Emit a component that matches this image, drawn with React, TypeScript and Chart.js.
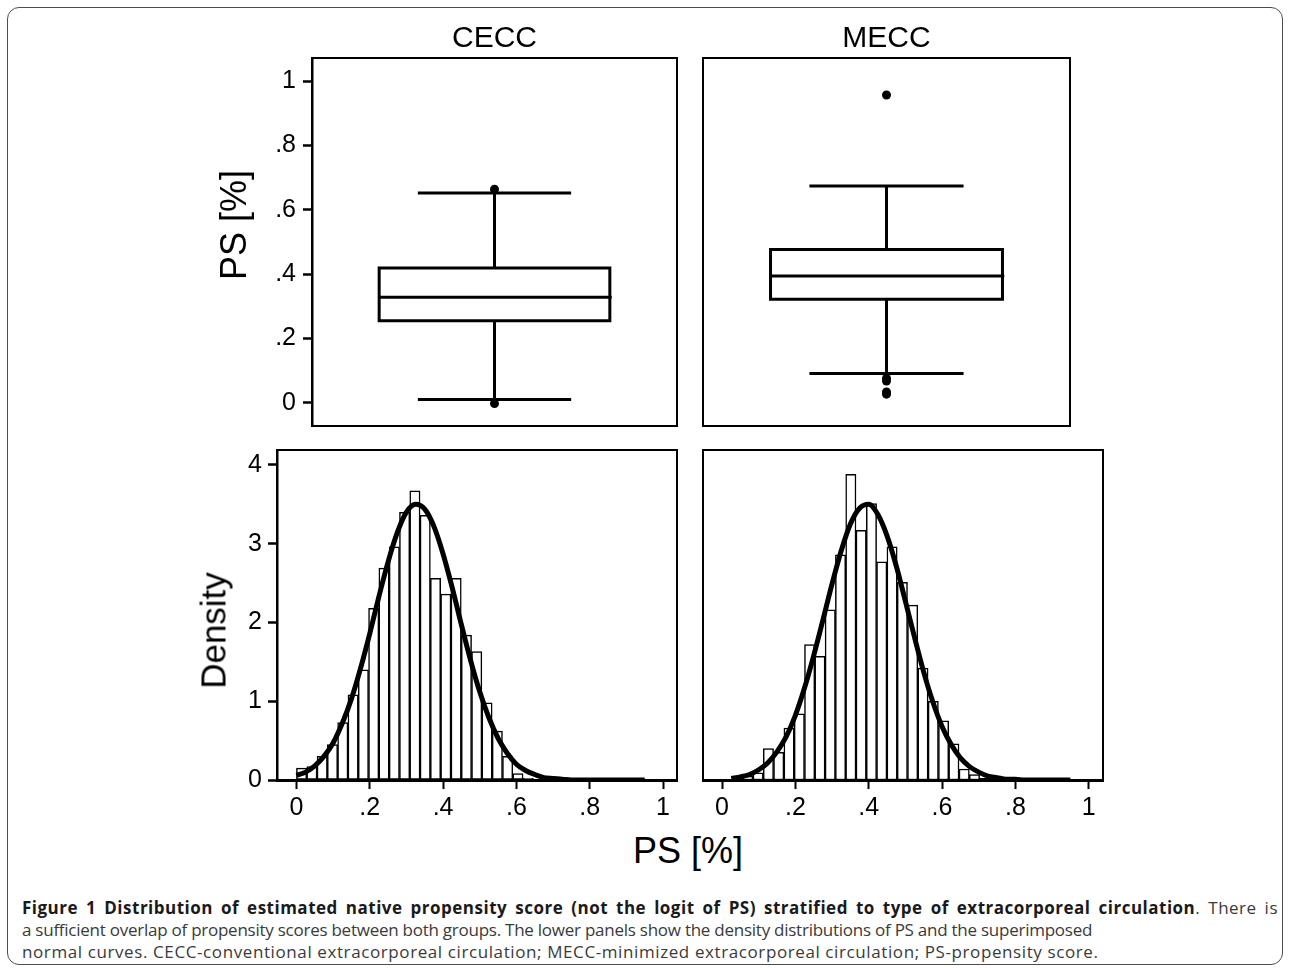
import React, { useEffect, useRef } from 'react';
import { Chart, registerables } from 'chart.js';

Chart.register(...registerables);

const FONT = '"Liberation Sans", Arial, Helvetica, sans-serif';

// ---------- data ----------
const groups = ['CECC', 'MECC'];

// box plot statistics: [lower whisker, Q1, median, Q3, upper whisker]
const ceccBox = [0.0105, 0.255, 0.328, 0.419, 0.652];
const meccBox = [0.091, 0.322, 0.394, 0.477, 0.674];
const ceccOutliers = [0.664, -0.002];
const meccOutliers = [0.957, 0.076, 0.068, 0.034, 0.027];

const boxYTicks = [0, 0.2, 0.4, 0.6, 0.8, 1];
const boxYTickLabels = ['0', '.2', '.4', '.6', '.8', '1'];

const histXTicks = [0, 0.2, 0.4, 0.6, 0.8, 1];
const histXTickLabels = ['0', '.2', '.4', '.6', '.8', '1'];
const histYTicks = [0, 1, 2, 3, 4];
const histYTickLabels = ['0', '1', '2', '3', '4'];

// histogram bin centres (PS)
const binCenters = [
  0.01405, 0.04215, 0.07025, 0.09835, 0.12645, 0.15455, 0.18265, 0.21075,
  0.23885, 0.26695, 0.29505, 0.32315, 0.35125, 0.37935, 0.40745, 0.43555,
  0.46365, 0.49175, 0.51985, 0.54795, 0.57605, 0.60415, 0.63225, 0.66035,
  0.68845, 0.71655,
];
const ceccDensity = [
  0.15, 0.17, 0.3, 0.45, 0.73, 1.08, 1.4, 2.18, 2.69, 2.96, 3.4, 3.67, 3.36,
  2.56, 2.36, 2.56, 1.84, 1.63, 0.98, 0.62, 0.3, 0.08, 0.02,
];
const meccDensity = [
  0, 0.02, 0.05, 0.09, 0.4, 0.35, 0.66, 0.84, 1.72, 1.57, 2.16, 2.86, 3.88,
  3.17, 3.51, 2.77, 2.96, 2.51, 2.22, 1.42, 1.0, 0.75, 0.46, 0.14, 0.07, 0.02,
];

// superimposed normal curves
const curveX = [
  0, 0.025, 0.05, 0.075, 0.1, 0.125, 0.15, 0.175, 0.2, 0.225, 0.25, 0.275, 0.3,
  0.325, 0.35, 0.375, 0.4, 0.425, 0.45, 0.475, 0.5, 0.525, 0.55, 0.575, 0.6,
  0.625, 0.65, 0.675, 0.7, 0.725, 0.75, 0.775, 0.8, 0.825, 0.85, 0.875, 0.9,
  0.925, 0.95,
];
const ceccCurve = [
  0.06, 0.1, 0.18, 0.3, 0.47, 0.72, 1.03, 1.42, 1.86, 2.33, 2.77, 3.14, 3.4,
  3.5, 3.44, 3.22, 2.87, 2.44, 1.97, 1.52, 1.12, 0.79, 0.53, 0.34, 0.2, 0.12,
  0.07, 0.03, 0.02, 0.01, 0, 0, 0, 0, 0, 0, 0, 0, 0,
];
const meccCurve = [
  null, 0.02, 0.04, 0.07, 0.13, 0.22, 0.36, 0.55, 0.82, 1.17, 1.58, 2.03, 2.49,
  2.91, 3.25, 3.45, 3.5, 3.37, 3.1, 2.72, 2.27, 1.81, 1.37, 0.99, 0.68, 0.45,
  0.28, 0.17, 0.1, 0.05, 0.03, 0.01, 0.01, 0, 0, 0, 0, 0, 0,
];

// ---------- styles ----------
const BOX_CENTER = 0.5;
const BOX_HALF = 0.316;
const CAP_HALF = 0.21;
const LINE_W = 3;

const framePlugin = {
  id: 'frame',
  afterDraw(chart: any) {
    const { ctx, chartArea: a } = chart;
    ctx.save();
    ctx.strokeStyle = '#000';
    ctx.lineWidth = 2;
    ctx.strokeRect(a.left, a.top, a.right - a.left, a.bottom - a.top);
    ctx.restore();
  },
};

const labelFrom = (ticks: number[], labels: string[]) => (v: any) => {
  const i = ticks.indexOf(Number(v));
  return i >= 0 ? labels[i] : '';
};

const fitter = (size: number | null, vertical: boolean) => (s: any) => {
  if (size !== null) {
    if (vertical) s.width = size;
    else s.height = size;
  }
  s.paddingTop = 0;
  s.paddingBottom = 0;
  s.paddingLeft = 0;
  s.paddingRight = 0;
};

function lineDs(label: string, pts: { x: number; y: number }[], cap = 'butt') {
  return {
    type: 'scatter',
    label,
    data: pts,
    showLine: true,
    borderColor: '#000',
    borderWidth: LINE_W,
    borderCapStyle: cap,
    borderJoinStyle: 'miter',
    pointRadius: 0,
    fill: false,
  };
}

function boxConfig(stats: number[], outliers: number[], showY: boolean, pad: any) {
  const [lo, q1, med, q3, hi] = stats;
  const c = BOX_CENTER;
  const l = c - BOX_HALF;
  const r = c + BOX_HALF;
  return {
    type: 'scatter',
    data: {
      datasets: [
        lineDs(
          'box',
          [
            { x: l, y: q1 },
            { x: r, y: q1 },
            { x: r, y: q3 },
            { x: l, y: q3 },
            { x: l, y: q1 },
          ],
          'square'
        ),
        lineDs('median', [
          { x: l, y: med },
          { x: r + 0.005, y: med },
        ]),
        lineDs('upper whisker', [
          { x: c, y: q3 },
          { x: c, y: hi },
        ]),
        lineDs('upper cap', [
          { x: c - CAP_HALF, y: hi },
          { x: c + CAP_HALF, y: hi },
        ]),
        lineDs('lower whisker', [
          { x: c, y: lo },
          { x: c, y: q1 },
        ]),
        lineDs('lower cap', [
          { x: c - CAP_HALF, y: lo },
          { x: c + CAP_HALF, y: lo },
        ]),
        {
          type: 'scatter',
          label: 'outliers',
          data: outliers.map((y) => ({ x: c, y })),
          pointRadius: 4.5,
          pointStyle: 'circle',
          backgroundColor: '#000',
          borderColor: '#000',
          borderWidth: 0,
        },
      ],
    },
    options: {
      animation: false,
      responsive: false,
      maintainAspectRatio: false,
      layout: { padding: pad },
      plugins: { legend: { display: false }, tooltip: { enabled: false } },
      scales: {
        x: { type: 'linear', display: false, min: 0, max: 1, afterFit: fitter(null, false) },
        y: {
          type: 'linear',
          display: showY,
          min: -0.072,
          max: 1.072,
          afterBuildTicks: (s: any) => {
            s.ticks = boxYTicks.map((v) => ({ value: v }));
          },
          afterFit: fitter(showY ? 112 : null, true),
          ticks: {
            callback: labelFrom(boxYTicks, boxYTickLabels),
            font: { family: FONT, size: 25 },
            color: '#000',
            padding: 7,
          },
          grid: {
            display: true,
            drawOnChartArea: false,
            drawTicks: true,
            tickLength: 9,
            tickColor: '#000',
            tickWidth: 2.5,
          },
          border: { display: true, color: '#000', width: 2.5 },
        },
      },
    },
    plugins: [framePlugin],
  };
}

function histConfig(
  density: number[],
  curve: (number | null)[],
  showY: boolean,
  pad: any,
  xmin: number,
  xmax: number
) {
  const bars = binCenters
    .slice(0, density.length)
    .map((x, i) => ({ x, y: density[i] }))
    .filter((p) => p.y > 0);
  return {
    type: 'bar',
    data: {
      datasets: [
        {
          type: 'line',
          label: 'normal curve',
          data: curveX.map((x, i) => ({ x, y: curve[i] })),
          borderColor: '#000',
          borderWidth: 5,
          pointRadius: 0,
          cubicInterpolationMode: 'monotone',
          fill: false,
          order: 0,
        },
        {
          type: 'bar',
          label: 'density',
          data: bars,
          backgroundColor: '#fff',
          borderColor: '#000',
          borderWidth: 1.5,
          borderSkipped: false,
          barPercentage: 1,
          categoryPercentage: 1,
          order: 1,
        },
      ],
    },
    options: {
      animation: false,
      responsive: false,
      maintainAspectRatio: false,
      layout: { padding: pad },
      plugins: { legend: { display: false }, tooltip: { enabled: false } },
      scales: {
        x: {
          type: 'linear',
          min: xmin,
          max: xmax,
          offset: false,
          afterBuildTicks: (s: any) => {
            s.ticks = histXTicks.map((v) => ({ value: v }));
          },
          afterFit: fitter(45, false),
          ticks: {
            callback: labelFrom(histXTicks, histXTickLabels),
            font: { family: FONT, size: 25 },
            color: '#000',
            padding: 4,
            maxRotation: 0,
            autoSkip: false,
          },
          grid: {
            display: true,
            offset: false,
            drawOnChartArea: false,
            drawTicks: true,
            tickLength: 9,
            tickColor: '#000',
            tickWidth: 2,
          },
          border: { display: true, color: '#000', width: 3 },
        },
        y: {
          type: 'linear',
          display: showY,
          min: 0,
          max: 4.19,
          afterBuildTicks: (s: any) => {
            s.ticks = histYTicks.map((v) => ({ value: v }));
          },
          afterFit: fitter(showY ? 87 : null, true),
          ticks: {
            callback: labelFrom(histYTicks, histYTickLabels),
            font: { family: FONT, size: 25 },
            color: '#000',
            padding: 6,
          },
          grid: {
            display: true,
            drawOnChartArea: false,
            drawTicks: true,
            tickLength: 9,
            tickColor: '#000',
            tickWidth: 2.5,
          },
          border: { display: true, color: '#000', width: 2.5 },
        },
      },
    },
    plugins: [framePlugin],
  };
}

function ChartCanvas({ make, left, top, width, height }: any) {
  const ref = useRef<HTMLCanvasElement>(null);
  useEffect(() => {
    const chart = new Chart(ref.current as HTMLCanvasElement, make());
    return () => chart.destroy();
  }, []);
  return (
    <canvas
      ref={ref}
      width={width}
      height={height}
      style={{ position: 'absolute', left, top, width, height }}
    />
  );
}

function Label({ text, cx, cy, size, rotate = false, w = 240 }: any) {
  const h = Math.round(size * 1.12);
  return (
    <div
      style={{
        position: 'absolute',
        left: cx - w / 2,
        top: cy - h / 2,
        width: w,
        height: h,
        lineHeight: h + 'px',
        textAlign: 'center',
        fontFamily: FONT,
        fontSize: size,
        color: '#000',
        whiteSpace: 'nowrap',
        transform: rotate ? 'rotate(-90deg)' : undefined,
      }}
    >
      {text}
    </div>
  );
}

const CAPTION_FONT = '"Open Sans", "Noto Sans", sans-serif';

export default function App() {
  return (
    <div
      style={{
        position: 'absolute',
        left: 0,
        top: 0,
        width: 1290,
        height: 968,
        overflow: 'hidden',
        background: '#fff',
      }}
    >
      <div
        style={{
          position: 'absolute',
          left: 7,
          top: 7,
          width: 1276,
          height: 958,
          border: '1.5px solid #4d4d4d',
          borderRadius: 12,
          boxSizing: 'border-box',
        }}
      />

      <ChartCanvas
        make={() => boxConfig(ceccBox, ceccOutliers, true, { left: 0, top: 10, right: 13, bottom: 12 })}
        left={200}
        top={48}
        width={490}
        height={390}
      />
      <ChartCanvas
        make={() => boxConfig(meccBox, meccOutliers, false, { left: 10, top: 10, right: 13, bottom: 12 })}
        left={693}
        top={48}
        width={390}
        height={390}
      />
      <ChartCanvas
        make={() =>
          histConfig(ceccDensity, ceccCurve, true, { left: 0, top: 10, right: 13, bottom: 0 }, -0.053, 1.038)
        }
        left={190}
        top={440}
        width={500}
        height={385}
      />
      <ChartCanvas
        make={() =>
          histConfig(meccDensity, meccCurve, false, { left: 10, top: 10, right: 13, bottom: 0 }, -0.052, 1.039)
        }
        left={693}
        top={440}
        width={423}
        height={385}
      />

      <Label text={groups[0]} cx={494.5} cy={37} size={30} />
      <Label text={groups[1]} cx={886.5} cy={36.5} size={30} />
      <Label text="PS [%]" cx={233.5} cy={225} size={36} rotate />
      <Label text="Density" cx={212.5} cy={630} size={35} rotate />
      <Label text="PS [%]" cx={688} cy={851} size={36} />

      <div
        style={{
          position: 'absolute',
          left: 22,
          top: 897,
          width: 1256,
          fontFamily: CAPTION_FONT,
          fontSize: 17,
          lineHeight: '22px',
          color: '#3a3a3a',
          whiteSpace: 'nowrap',
        }}
      >
        <div
          style={
            {
              textAlign: 'justify',
              textAlignLast: 'justify',
              whiteSpace: 'normal',
              letterSpacing: '0.5px',
            } as any
          }
        >
          <span style={{ fontWeight: 700, color: '#1a1a1a' }}>
            Figure 1 Distribution of estimated native propensity score (not the logit of PS) stratified to type of
            extracorporeal circulation
          </span>
          . There is
        </div>
        <div style={{ letterSpacing: '-0.25px' }}>
          a sufficient overlap of propensity scores between both groups. The lower panels show the density
          distributions of PS and the superimposed
        </div>
        <div style={{ letterSpacing: '0.6px' }}>
          normal curves. CECC-conventional extracorporeal circulation; MECC-minimized extracorporeal circulation;
          PS-propensity score.
        </div>
      </div>
    </div>
  );
}
